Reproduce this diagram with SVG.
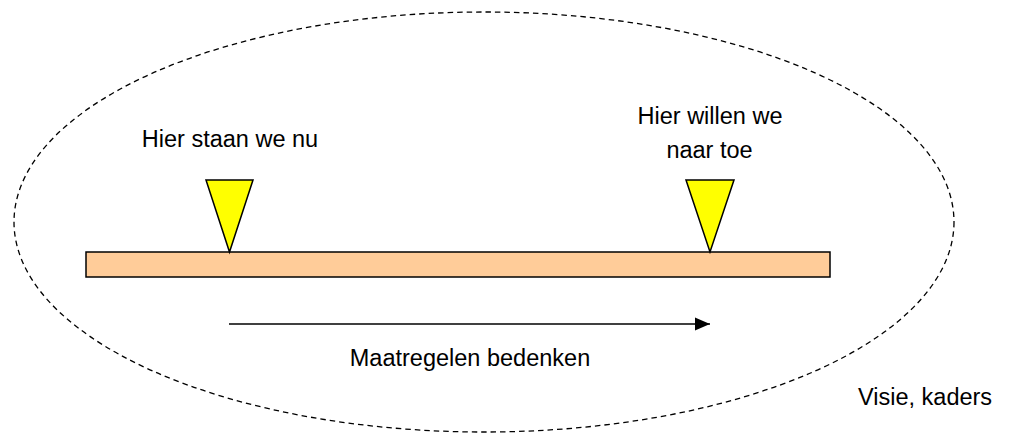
<svg xmlns="http://www.w3.org/2000/svg" width="1013" height="444" viewBox="0 0 1013 444">
<style>
text{font-family:"Liberation Sans",Arial,sans-serif;font-size:23.5px;fill:#000}
.tri{fill:#ffff00;stroke:#000;stroke-width:1.5;stroke-linejoin:miter}
</style>
<defs>
<marker id="ah" markerWidth="16" markerHeight="14" refX="15" refY="7" orient="auto" markerUnits="userSpaceOnUse">
<path d="M0,0.5 L15,7 L0,13.5 z" fill="#000"/>
</marker>
</defs>
<rect width="1013" height="444" fill="#fff"/>
<g id="frame">
<ellipse cx="484" cy="222" rx="470" ry="210" fill="none" stroke="#000" stroke-width="1.3" stroke-dasharray="5.5,4"/>
<text x="858" y="405">Visie, kaders</text>
</g>
<g id="bar">
<rect x="86" y="252" width="744" height="25" fill="#ffcc99" stroke="#000" stroke-width="1.5"/>
</g>
<g id="now">
<polygon class="tri" points="206,180 253,180 229.5,252"/>
<text x="230" y="147" text-anchor="middle">Hier staan we nu</text>
</g>
<g id="goal">
<polygon class="tri" points="686,180 734,180 710,252"/>
<text x="710" y="124" text-anchor="middle">Hier willen we</text>
<text x="709.5" y="157.5" text-anchor="middle">naar toe</text>
</g>
<g id="connectors">
<line x1="229" y1="324" x2="710" y2="324" stroke="#000" stroke-width="1.5" marker-end="url(#ah)"/>
<text x="470" y="366" text-anchor="middle">Maatregelen bedenken</text>
</g>
</svg>
